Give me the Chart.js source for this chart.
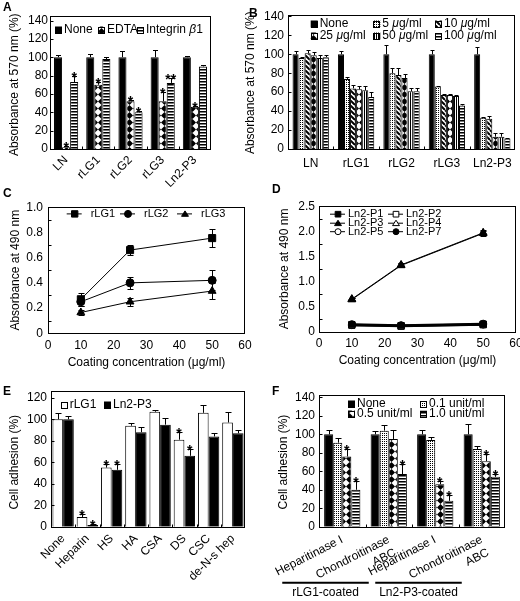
<!DOCTYPE html>
<html>
<head>
<meta charset="utf-8">
<script src="https://cdn.jsdelivr.net/npm/chart.js@4.4.0/dist/chart.umd.min.js"></script>
<style>
  html, body { margin: 0; padding: 0; background: #fff; width: 520px; height: 601px; overflow: hidden; }
  canvas { position: absolute; }
  .tag { position: absolute; z-index: 2; font: bold 12px "Liberation Sans", Arial, sans-serif; }
</style>
</head>
<body>
<div class="tag" style="left:3px;top:0px">A</div>
<div class="tag" style="left:249px;top:6px">B</div>
<div class="tag" style="left:3px;top:186px">C</div>
<div class="tag" style="left:272px;top:182px">D</div>
<div class="tag" style="left:3px;top:384px">E</div>
<div class="tag" style="left:272px;top:384px">F</div>

<canvas id="chartA" width="258" height="200" style="left:0;top:0"></canvas>
<canvas id="chartB" width="280" height="200" style="left:240px;top:0"></canvas>
<canvas id="chartC" width="258" height="190" style="left:0;top:195px"></canvas>
<canvas id="chartD" width="270" height="190" style="left:262px;top:195px"></canvas>
<canvas id="chartE" width="258" height="216" style="left:0;top:385px"></canvas>
<canvas id="chartF" width="270" height="216" style="left:262px;top:385px"></canvas>

<script>
// ---- A: cell adhesion with EDTA / integrin beta1 antibody
const groupsA = ['LN', 'rLG1', 'rLG2', 'rLG3', 'Ln2-P3'];
const noneA = [100, 100, 100, 100, 100];
const noneErrA = [2, 3, 7, 8, 1];
const edtaA = [2, 70, 52, 52, 46];
const edtaErrA = [1, 3, 1, 10, 1];
const integrinA = [73, 98, 40, 72, 90];
const integrinErrA = [7, 2, 1, 5, 2];
const starsEdtaA = ['*', '*', '*', '*', '*'];
const starsIntegrinA = ['*', '', '*', '**', ''];

// ---- B: inhibition by soluble peptide
const groupsB = ['LN', 'rLG1', 'rLG2', 'rLG3', 'Ln2-P3'];
const dosesB = ['None', '5 μg/ml', '10 μg/ml', '25 μg/ml', '50 μg/ml', '100 μg/ml'];
const noneB = [100, 100, 100, 100, 100];
const noneErrB = [3, 3, 10, 4, 8];
const dose5B = [96, 74, 80, 66, 33];
const dose5ErrB = [1, 2, 6, 1, 1];
const dose10B = [101, 64, 78, 57, 32];
const dose10ErrB = [3, 4, 7, 1, 3];
const dose25B = [99, 63, 75, 57, 13];
const dose25ErrB = [3, 3, 4, 1, 4];
const dose50B = [96, 62, 61, 56, 13];
const dose50ErrB = [3, 4, 3, 1, 4];
const dose100B = [97, 55, 61, 46, 11];
const dose100ErrB = [2, 5, 3, 1, 1];

// ---- C: heparin binding of rLG proteins
const concC = [10, 25, 50];
const rLG1C = [0.27, 0.66, 0.755];
const rLG1ErrC = [0.05, 0.04, 0.07];
const rLG2C = [0.25, 0.40, 0.42];
const rLG2ErrC = [0.03, 0.05, 0.08];
const rLG3C = [0.165, 0.25, 0.335];
const rLG3ErrC = [0.02, 0.03, 0.06];

// ---- D: heparin binding of peptides
const concD = [10, 25, 50];
const p1D = [0.14, 0.12, 0.15];
const p2D = [0.13, 0.11, 0.14];
const p3D = [0.65, 1.33, 1.97];
const p4D = [0.64, 1.32, 1.96];
const p5D = [0.13, 0.12, 0.14];
const p7D = [0.15, 0.13, 0.16];
const p3ErrD = [0.03, 0.04, 0.05];
const lowErrD = [0.02, 0.02, 0.02];

// ---- E: GAG competition
const groupsE = ['None', 'Heparin', 'HS', 'HA', 'CSA', 'DS', 'CSC', 'de-N-s hep'];
const rLG1E = [100, 9, 55, 94, 107, 81, 106, 97];
const rLG1ErrE = [6, 3, 3, 3, 1.5, 7, 7, 10];
const ln2E = [100, 1.5, 53, 88, 95, 66, 84, 87];
const ln2ErrE = [3, 1, 5, 5, 6, 6, 3, 3];
const starsE = ['', '*', '*', '', '', '*', '', ''];

// ---- F: enzyme treatment
const groupsF = ['Heparitinase I', ['Chondroitinase', 'ABC'], 'Heparitinase I', ['Chondroitinase', 'ABC']];
const dosesF = ['None', '0.1 unit/ml', '0.5 unit/ml', '1.0 unit/ml'];
const noneF = [100, 100, 100, 100];
const noneErrF = [5, 4, 5, 11];
const unit01F = [91, 104, 94, 84];
const unit01ErrF = [5, 6, 3, 3];
const unit05F = [76, 95, 46, 71];
const unit05ErrF = [8, 10, 3, 8];
const unit10F = [40, 57, 28, 54];
const unit10ErrF = [9, 11, 6, 3];
const stars05F = ['*', '', '*', '*'];
const stars10F = ['*', '*', '*', '*'];
const coatings = ['rLG1-coated', 'Ln2-P3-coated'];

const FONT = '"Liberation Sans", Arial, Helvetica, sans-serif';
Chart.defaults.font.family = FONT;
Chart.defaults.font.size = 12;
Chart.defaults.color = '#000';
Chart.defaults.animation = false;

// fill patterns for the bars
function makePattern(w, h, draw) {
    const c = document.createElement('canvas');
    c.width = w;
    c.height = h;
    const g = c.getContext('2d');
    g.fillStyle = '#fff';
    g.fillRect(0, 0, w, h);
    g.fillStyle = '#000';
    g.strokeStyle = '#000';
    draw(g, w, h);
    return g.createPattern(c, 'repeat');
}
const dotted = makePattern(2, 2, (g) => { g.fillRect(0, 0, 1, 1); });
const diagonal = makePattern(5, 5, (g) => {
    g.lineWidth = 2;
    [-5, 0, 5].forEach((k) => { g.beginPath(); g.moveTo(k, 0); g.lineTo(k + 5, 5); g.stroke(); });
});
const diamonds = makePattern(7, 7, (g) => {
    g.beginPath();
    g.moveTo(3.5, 0); g.lineTo(7, 3.5); g.lineTo(3.5, 7); g.lineTo(0, 3.5);
    g.closePath();
    g.fill();
});
const vStripes = makePattern(2, 1, (g) => { g.fillRect(0, 0, 1, 1); });
const hStripes = makePattern(1, 3, (g) => {
    g.fillRect(0, 0, 1, 1);
    g.fillStyle = '#777';
    g.fillRect(0, 1, 1, 1);
});

function drawMarker(ctx, style, x, y, r, fill) {
    ctx.beginPath();
    if (style === 'rect') {
        const s = r * Math.SQRT1_2;
        ctx.rect(x - s, y - s, 2 * s, 2 * s);
    } else if (style === 'triangle') {
        for (let k = 0; k < 3; k++) {
            const a = -Math.PI / 2 + k * 2 * Math.PI / 3;
            const px = x + Math.cos(a) * r, py = y + Math.sin(a) * r * 0.9 + r * 0.15;
            if (k === 0) ctx.moveTo(px, py); else ctx.lineTo(px, py);
        }
        ctx.closePath();
    } else {
        ctx.arc(x, y, r, 0, Math.PI * 2);
    }
    ctx.fillStyle = fill;
    ctx.fill();
    ctx.lineWidth = 1;
    ctx.strokeStyle = '#000';
    ctx.stroke();
}

// text with italic greek letters (μ, β)
function drawRich(ctx, text, x, y, size) {
    text.split(/([μβ])/).forEach((p) => {
        if (!p) return;
        ctx.font = (/[μβ]/.test(p) ? 'italic ' : '') + size + 'px ' + FONT;
        ctx.fillText(p, x, y);
        x += ctx.measureText(p).width;
    });
}

// error bars, stars, frame, inner ticks, legend, brackets
const panelExtras = {
    id: 'panelExtras',
    afterDatasetsDraw(chart, args, opts) {
        const { ctx, chartArea: area } = chart;
        const xs = chart.scales.x;
        const ys = chart.scales.y;
        ctx.save();
        ctx.strokeStyle = '#000';
        ctx.fillStyle = '#000';
        ctx.lineWidth = 1;

        chart.data.datasets.forEach((ds, i) => {
            if (!ds.errors) return;
            chart.getDatasetMeta(i).data.forEach((el, j) => {
                const raw = ds.data[j];
                const v = typeof raw === 'object' ? raw.y : raw;
                const e = ds.errors[j] || 0;
                const cx = Math.round(el.x) + 0.5;
                const top = Math.round(ys.getPixelForValue(v + e)) + 0.5;
                const low = opts.twoSided ? Math.round(ys.getPixelForValue(v - e)) + 0.5 : el.y;
                const cap = opts.cap;
                ctx.lineWidth = 1;
                ctx.beginPath();
                ctx.moveTo(cx, low);
                ctx.lineTo(cx, top);
                ctx.moveTo(cx - cap, top);
                ctx.lineTo(cx + cap, top);
                if (opts.twoSided) {
                    ctx.moveTo(cx - cap, low);
                    ctx.lineTo(cx + cap, low);
                }
                ctx.stroke();
                const star = ds.stars && ds.stars[j];
                if (star) {
                    ctx.fillStyle = '#000';
                    ctx.font = 'bold 14px ' + FONT;
                    ctx.textAlign = 'center';
                    ctx.textBaseline = 'alphabetic';
                    ctx.fillText(star, el.x, top + 5);
                }
            });
        });

        // frame
        const L = Math.round(area.left) + 0.5;
        const R = Math.round(area.right) - 0.5;
        const B = Math.round(area.bottom) + 0.5;
        const T = Math.round(area.top - (opts.frameExtra || 0)) + 0.5;
        ctx.lineWidth = 1;
        ctx.strokeRect(L, T, R - L, B - T);

        // inward tick marks
        ctx.beginPath();
        ys.ticks.forEach((t, k) => {
            let val = t.value;
            if (opts.midTicks) {
                if (k === ys.ticks.length - 1) return;
                val = (t.value + ys.ticks[k + 1].value) / 2;
            }
            const yp = Math.round(ys.getPixelForValue(val)) + 0.5;
            ctx.moveTo(L, yp);
            ctx.lineTo(L + 3, yp);
        });
        if (xs.type === 'category') {
            for (let k = 1; k < xs.ticks.length; k++) {
                const xp = Math.round((xs.getPixelForValue(k - 1) + xs.getPixelForValue(k)) / 2) + 0.5;
                ctx.moveTo(xp, B);
                ctx.lineTo(xp, B - 3);
            }
        }
        ctx.stroke();

        // legend inside the plot
        ctx.textAlign = 'left';
        ctx.textBaseline = 'middle';
        (opts.legend || []).forEach((item) => {
            const ds = chart.data.datasets[item.index];
            const x = area.left + item.dx;
            const y = area.top + item.dy;
            let tx;
            if (opts.kind === 'line') {
                ctx.lineWidth = 1;
                ctx.beginPath();
                ctx.moveTo(x, y);
                ctx.lineTo(x + 15, y);
                ctx.stroke();
                drawMarker(ctx, ds.pointStyle, x + 8, y, ds.pointRadius - 0.5, ds.pointBackgroundColor);
                tx = x + opts.textGap;
            } else {
                ctx.fillStyle = ds.backgroundColor;
                ctx.fillRect(x, y - 3.5, 7, 7);
                ctx.lineWidth = 1;
                ctx.strokeRect(Math.round(x) + 0.5, Math.round(y - 3.5) + 0.5, 6, 6);
                tx = x + 9;
            }
            ctx.fillStyle = '#000';
            drawRich(ctx, ds.label, tx, y, opts.legendSize);
        });

        // group brackets under the axis
        (opts.brackets || []).forEach((b) => {
            const x0 = xs.getPixelForValue(b.from) + opts.bracketLeft;
            const x1 = xs.getPixelForValue(b.to) + opts.bracketRight;
            const yl = area.bottom + opts.bracketDrop;
            ctx.lineWidth = 2;
            ctx.beginPath();
            ctx.moveTo(x0, yl);
            ctx.lineTo(x1, yl);
            ctx.stroke();
            ctx.font = '12px ' + FONT;
            ctx.textAlign = 'center';
            ctx.textBaseline = 'middle';
            ctx.fillText(b.label, (x0 + x1) / 2, yl + 10);
        });
        ctx.restore();
    }
};

function yAxis(max, step, title, width, titlePad, tickPad, fmt) {
    const ticks = { stepSize: step, padding: tickPad };
    if (fmt) ticks.callback = fmt;
    return {
        min: 0,
        max: max,
        ticks: ticks,
        grid: { display: false, drawTicks: false },
        border: { display: false },
        title: { display: true, text: title, padding: { top: titlePad, bottom: 0 } },
        afterFit: (s) => { s.width = width; }
    };
}

function catAxis(rotation, pad, height) {
    return {
        grid: { display: false, drawTicks: false },
        border: { display: false },
        ticks: { minRotation: rotation, maxRotation: rotation, padding: pad, autoSkip: false },
        afterFit: (s) => { s.height = height; }
    };
}

function concAxis(height, tickPad, titlePad) {
    return {
        type: 'linear',
        min: 0,
        max: 60,
        ticks: { stepSize: 10, padding: tickPad, maxRotation: 0 },
        grid: { display: false, drawTicks: false },
        border: { display: false },
        title: { display: true, text: 'Coating concentration (μg/ml)', padding: { top: 0, bottom: titlePad } },
        afterFit: (s) => { s.height = height; }
    };
}

function lineSet(label, xs, ys, errs, style, radius, fill, width) {
    return {
        label: label,
        data: xs.map((c, i) => ({ x: c, y: ys[i] })),
        errors: errs,
        borderColor: '#000',
        borderWidth: width,
        pointStyle: style,
        pointRadius: radius,
        pointBackgroundColor: fill,
        pointBorderColor: '#000',
        pointBorderWidth: 1,
        tension: 0
    };
}

const oneDecimal = (v) => (v === 0 ? '0' : v.toFixed(1));
const noUi = { legend: { display: false }, tooltip: { enabled: false } };

// A
new Chart(document.getElementById('chartA'), {
    type: 'bar',
    data: {
        labels: groupsA,
        datasets: [
            { label: 'None', data: noneA, errors: noneErrA, backgroundColor: '#000' },
            { label: 'EDTA', data: edtaA, errors: edtaErrA, stars: starsEdtaA, backgroundColor: diamonds },
            { label: 'Integrin β1', data: integrinA, errors: integrinErrA, stars: starsIntegrinA, backgroundColor: hStripes }
        ]
    },
    options: {
        responsive: false,
        layout: { padding: { top: 20.5, right: 47, left: 0, bottom: 0 } },
        datasets: { bar: { borderColor: '#000', borderWidth: 1, categoryPercentage: 0.75, barPercentage: 1 } },
        plugins: {
            ...noUi,
            panelExtras: {
                cap: 2.5, frameExtra: 5, legendSize: 12,
                legend: [{ index: 0, dx: 5, dy: 9.5 }, { index: 1, dx: 48, dy: 9.5 }, { index: 2, dx: 87, dy: 9.5 }]
            }
        },
        scales: {
            x: catAxis(45, 4, 51),
            y: yAxis(140, 20, 'Absorbance at 570 nm (%)', 50, 7, 2)
        }
    },
    plugins: [panelExtras]
});

// B
new Chart(document.getElementById('chartB'), {
    type: 'bar',
    data: {
        labels: groupsB,
        datasets: [
            { label: dosesB[0], data: noneB, errors: noneErrB, backgroundColor: '#000' },
            { label: dosesB[1], data: dose5B, errors: dose5ErrB, backgroundColor: dotted },
            { label: dosesB[2], data: dose10B, errors: dose10ErrB, backgroundColor: diagonal },
            { label: dosesB[3], data: dose25B, errors: dose25ErrB, backgroundColor: diamonds },
            { label: dosesB[4], data: dose50B, errors: dose50ErrB, backgroundColor: vStripes },
            { label: dosesB[5], data: dose100B, errors: dose100ErrB, backgroundColor: hStripes }
        ]
    },
    options: {
        responsive: false,
        layout: { padding: { top: 16.4, right: 5, left: 0, bottom: 0 } },
        datasets: { bar: { borderColor: '#000', borderWidth: 1, categoryPercentage: 0.8, barPercentage: 1 } },
        plugins: {
            ...noUi,
            panelExtras: {
                cap: 2, frameExtra: 1, legendSize: 12,
                legend: [
                    { index: 0, dx: 22.7, dy: 7.6 }, { index: 1, dx: 85.3, dy: 7.6 }, { index: 2, dx: 147, dy: 7.6 },
                    { index: 3, dx: 22.7, dy: 19.6 }, { index: 4, dx: 85.3, dy: 19.6 }, { index: 5, dx: 147, dy: 19.6 }
                ]
            }
        },
        scales: {
            x: catAxis(0, 7, 51),
            y: yAxis(140, 20, 'Absorbance at 570 nm (%)', 48, 3, 4)
        }
    },
    plugins: [panelExtras]
});

// C
new Chart(document.getElementById('chartC'), {
    type: 'line',
    data: {
        datasets: [
            lineSet('rLG1', concC, rLG1C, rLG1ErrC, 'rect', 5, '#000', 1),
            lineSet('rLG2', concC, rLG2C, rLG2ErrC, 'circle', 4, '#000', 1),
            lineSet('rLG3', concC, rLG3C, rLG3ErrC, 'triangle', 4.5, '#000', 1)
        ]
    },
    options: {
        responsive: false,
        layout: { padding: { top: 8.3, right: 13, left: 0, bottom: 0 } },
        plugins: {
            ...noUi,
            panelExtras: {
                cap: 3, twoSided: true, midTicks: true, kind: 'line', textGap: 24, legendSize: 11,
                legend: [{ index: 0, dx: 18.7, dy: 6.7 }, { index: 1, dx: 72, dy: 6.7 }, { index: 2, dx: 129, dy: 6.7 }]
            }
        },
        scales: {
            x: concAxis(51.7, 5, 14.8),
            y: yAxis(1.0, 0.2, 'Absorbance at 490 nm', 48, 8, 5, oneDecimal)
        }
    },
    plugins: [panelExtras]
});

// D
new Chart(document.getElementById('chartD'), {
    type: 'line',
    data: {
        datasets: [
            lineSet('Ln2-P1', concD, p1D, lowErrD, 'rect', 4.5, '#000', 2),
            lineSet('Ln2-P2', concD, p2D, lowErrD, 'rect', 4.5, '#fff', 2),
            lineSet('Ln2-P3', concD, p3D, p3ErrD, 'triangle', 4.5, '#000', 1),
            lineSet('Ln2-P4', concD, p4D, p3ErrD, 'triangle', 4.5, '#fff', 1),
            lineSet('Ln2-P5', concD, p5D, lowErrD, 'circle', 3.5, '#fff', 2),
            lineSet('Ln2-P7', concD, p7D, lowErrD, 'circle', 3.5, '#000', 2)
        ]
    },
    options: {
        responsive: false,
        layout: { padding: { top: 8, right: 16, left: 0, bottom: 0 } },
        plugins: {
            ...noUi,
            panelExtras: {
                cap: 3, twoSided: true, midTicks: true, kind: 'line', textGap: 18, legendSize: 11,
                legend: [
                    { index: 0, dx: 11, dy: 8 }, { index: 1, dx: 69, dy: 8 },
                    { index: 2, dx: 11, dy: 17 }, { index: 3, dx: 69, dy: 17 },
                    { index: 4, dx: 11, dy: 25.5 }, { index: 5, dx: 69, dy: 25.5 }
                ]
            }
        },
        scales: {
            x: concAxis(53.3, 5, 16.8),
            y: yAxis(2.5, 0.5, 'Absorbance at 490 nm', 57, 15, 4, oneDecimal)
        }
    },
    plugins: [panelExtras]
});

// E
new Chart(document.getElementById('chartE'), {
    type: 'bar',
    data: {
        labels: groupsE,
        datasets: [
            { label: 'rLG1', data: rLG1E, errors: rLG1ErrE, stars: starsE, backgroundColor: '#fff' },
            { label: 'Ln2-P3', data: ln2E, errors: ln2ErrE, stars: starsE, backgroundColor: '#000' }
        ]
    },
    options: {
        responsive: false,
        layout: { padding: { top: 12.8, right: 13, left: 0, bottom: 0 } },
        datasets: { bar: { borderColor: '#000', borderWidth: 1, categoryPercentage: 0.88, barPercentage: 1 } },
        plugins: {
            ...noUi,
            panelExtras: {
                cap: 3, frameExtra: 7, legendSize: 12,
                legend: [{ index: 0, dx: 9.7, dy: 7.2 }, { index: 1, dx: 53, dy: 7.2 }]
            }
        },
        scales: {
            x: catAxis(45, 5, 74.3),
            y: yAxis(120, 20, 'Cell adhesion (%)', 51, 7, 4)
        }
    },
    plugins: [panelExtras]
});

// F
new Chart(document.getElementById('chartF'), {
    type: 'bar',
    data: {
        labels: groupsF,
        datasets: [
            { label: dosesF[0], data: noneF, errors: noneErrF, backgroundColor: '#000' },
            { label: dosesF[1], data: unit01F, errors: unit01ErrF, backgroundColor: dotted },
            { label: dosesF[2], data: unit05F, errors: unit05ErrF, stars: stars05F, backgroundColor: diamonds },
            { label: dosesF[3], data: unit10F, errors: unit10ErrF, stars: stars10F, backgroundColor: hStripes }
        ]
    },
    options: {
        responsive: false,
        layout: { padding: { top: 12.4, right: 27, left: 0, bottom: 0 } },
        datasets: { bar: { borderColor: '#000', borderWidth: 1, categoryPercentage: 0.78, barPercentage: 1 } },
        plugins: {
            ...noUi,
            panelExtras: {
                cap: 3, frameExtra: 2, legendSize: 12,
                legend: [
                    { index: 0, dx: 29, dy: 6.6 }, { index: 1, dx: 101, dy: 6.6 },
                    { index: 2, dx: 29, dy: 16.6 }, { index: 3, dx: 101, dy: 16.6 }
                ],
                brackets: [{ from: 0, to: 1, label: coatings[0] }, { from: 2, to: 3, label: coatings[1] }],
                bracketLeft: -60, bracketRight: -20, bracketDrop: 56
            }
        },
        scales: {
            x: catAxis(27, 6, 74.3),
            y: yAxis(140, 20, 'Cell adhesion (%)', 57, 14, 4)
        }
    },
    plugins: [panelExtras]
});
</script>
</body>
</html>
